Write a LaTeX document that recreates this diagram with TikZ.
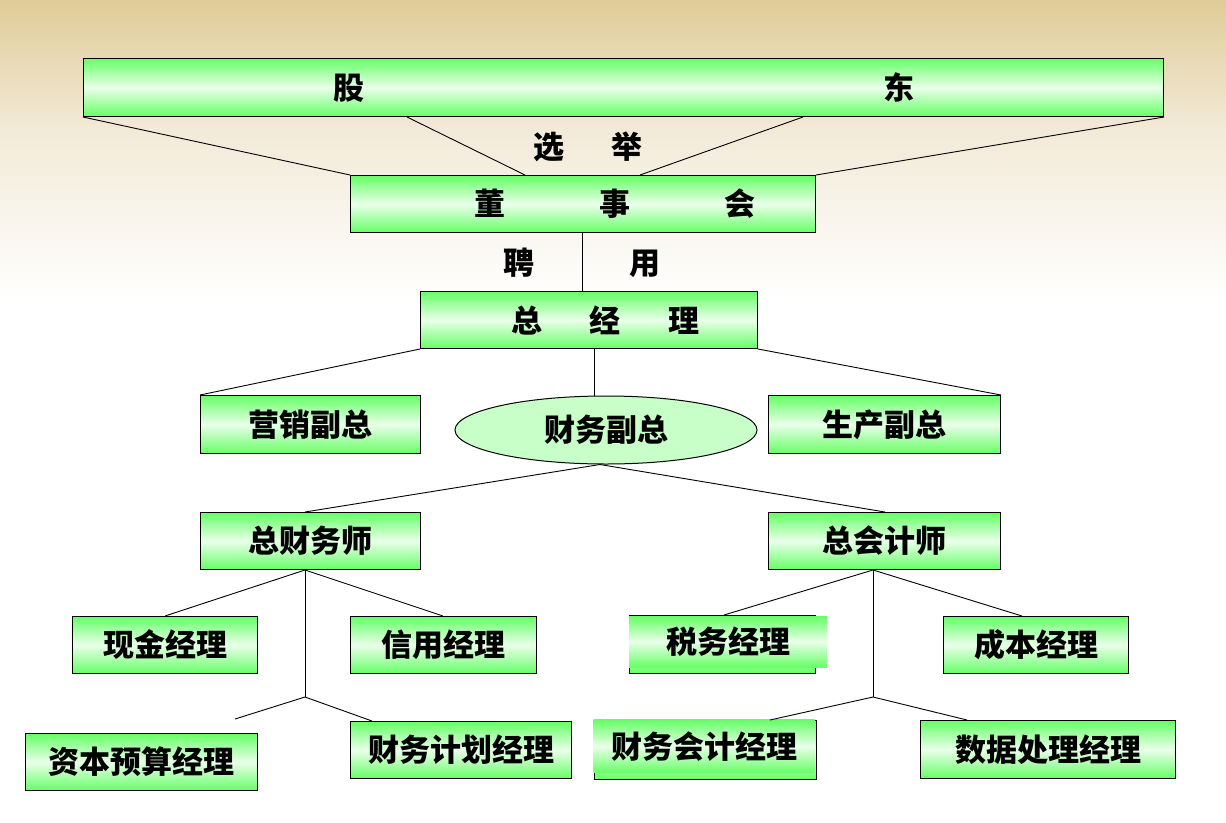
\documentclass[tikz,border=0pt]{standalone}
\usepackage{fontspec}
\setmainfont{Noto Sans CJK SC}
\usetikzlibrary{shapes.geometric,calc}
\definecolor{gboxc}{HTML}{66FF66}
\definecolor{glight}{HTML}{EAFFEA}
\definecolor{bgtan}{HTML}{E0CC98}
\definecolor{bgmid}{HTML}{F2EAD8}
\definecolor{ellfill}{HTML}{C8FFC8}
\tikzset{
  x=1pt, y=-1pt,
  cjkfont/.style={font=\fontsize{31}{34}\selectfont\bfseries},
  box/.style={draw=black, line width=1pt, rectangle, anchor=north west, inner sep=0pt,
    top color=gboxc, bottom color=gboxc, middle color=glight, cjkfont},
  boxfill/.style={rectangle, anchor=north west, inner sep=0pt,
    top color=gboxc, bottom color=gboxc, middle color=glight, cjkfont},
  lbl/.style={cjkfont, inner sep=0pt},
  ln/.style={draw=black, line width=0.9pt}
}
\begin{document}
\begin{tikzpicture}
\useasboundingbox (0,0) rectangle (1226,822);
\fill[white] (0,0) rectangle (1226,822);
\shade[top color=bgtan, bottom color=bgmid] (0,0) rectangle (1226,130);
\shade[top color=bgmid, bottom color=white] (0,130) rectangle (1226,300);

% top levels
\node[box, minimum width=1080pt, minimum height=58pt] (gd) at (83,58) {股\hspace{519pt}东};
\node[box, minimum width=465pt, minimum height=57pt] (dsh) at (350,175) {\hspace{63pt}董\hspace{94pt}事\hspace{94pt}会};
\node[box, minimum width=337pt, minimum height=57pt] (zjl) at (420,291) {\hspace{33pt}总\hspace{48pt}经\hspace{48pt}理};
\node[lbl] (xj) at (588,147) {选\hspace{48pt}举};
\node[lbl] (py) at (582,263) {聘\hspace{95pt}用};

% vice presidents
\node[box, minimum width=220pt, minimum height=58pt] (yx) at (200,395) {营销副总};
\node[draw=black, line width=1pt, ellipse, fill=ellfill, minimum width=302pt, minimum height=68pt, inner sep=0pt, cjkfont] (cw) at (606,430) {财务副总};
\node[box, minimum width=232pt, minimum height=58pt] (sc) at (768,395) {生产副总};

% second level
\node[box, minimum width=220pt, minimum height=57pt] (zcws) at (200,512) {总财务师};
\node[box, minimum width=232pt, minimum height=57pt] (zkjs) at (768,512) {总会计师};

% managers left
\node[box, minimum width=185pt, minimum height=57pt] (xjjl) at (72,616) {现金经理};
\node[box, minimum width=186pt, minimum height=57pt] (xyjl) at (350,616) {信用经理};
\node[box, minimum width=232pt, minimum height=57pt] (zbys) at (25,733) {资本预算经理};
\node[box, minimum width=221pt, minimum height=57pt] (cwjh) at (350,721) {财务计划经理};

% managers right
\node[box, minimum width=186pt, minimum height=58pt] (swb) at (629,615) {};
\node[boxfill, minimum width=198pt, minimum height=51pt] (sw) at (629,616) {税务经理};
\node[box, minimum width=185pt, minimum height=57pt] (cb) at (943,616) {成本经理};
\node[box, minimum width=222pt, minimum height=59pt] (cwkjb) at (594,720) {};
\node[boxfill, minimum width=221pt, minimum height=53pt] (cwkj) at (593.5,719.5) {财务会计经理};
\node[box, minimum width=255pt, minimum height=58pt] (sjcl) at (920,720) {数据处理经理};

% connectors: shareholders -> board
\draw[ln] (gd.south west) -- (dsh.north west);
\draw[ln] ($(gd.south west)+(324,0)$) -- ($(dsh.north west)+(175,0)$);
\draw[ln] ($(gd.south west)+(720,0)$) -- ($(dsh.north west)+(290,0)$);
\draw[ln] (gd.south east) -- (dsh.north east);
% board -> GM
\draw[ln] ($(dsh.south west)+(232,0)$) -- ($(zjl.north west)+(162,0)$);
% GM -> VPs
\draw[ln] (zjl.south west) -- (yx.north west);
\draw[ln] (zjl.south east) -- (sc.north east);
\draw[ln] ($(zjl.south west)+(174,0)$) -- ($(zjl.south west)+(174,47)$);
% finance VP -> CFO, chief accountant
\draw[ln] ($(cw.south)+(-6,0)$) -- ($(zcws.north west)+(105,0)$);
\draw[ln] ($(cw.south)+(-6,0)$) -- ($(zkjs.north west)+(117,0)$);
% CFO subtree
\coordinate (jl) at (305,697);
\coordinate (jlfree) at (235,719);
\draw[ln] ($(zcws.south west)+(105,0)$) -- ($(xjjl.north west)+(93,0)$);
\draw[ln] ($(zcws.south west)+(105,0)$) -- ($(xyjl.north west)+(93,0)$);
\draw[ln] ($(zcws.south west)+(105,0)$) -- (jl);
\draw[ln] (jl) -- (jlfree);
\draw[ln] (jl) -- ($(cwjh.north west)+(22,0)$);
% chief accountant subtree
\coordinate (jr) at (873,697);
\draw[ln] ($(zkjs.south west)+(105,0)$) -- ($(swb.north west)+(95,0)$);
\draw[ln] ($(zkjs.south west)+(105,0)$) -- ($(cb.north west)+(79,0)$);
\draw[ln] ($(zkjs.south west)+(105,0)$) -- (jr);
\draw[ln] (jr) -- ($(cwkjb.north west)+(176,0)$);
\draw[ln] (jr) -- ($(sjcl.north west)+(47,0)$);
\end{tikzpicture}
\end{document}
